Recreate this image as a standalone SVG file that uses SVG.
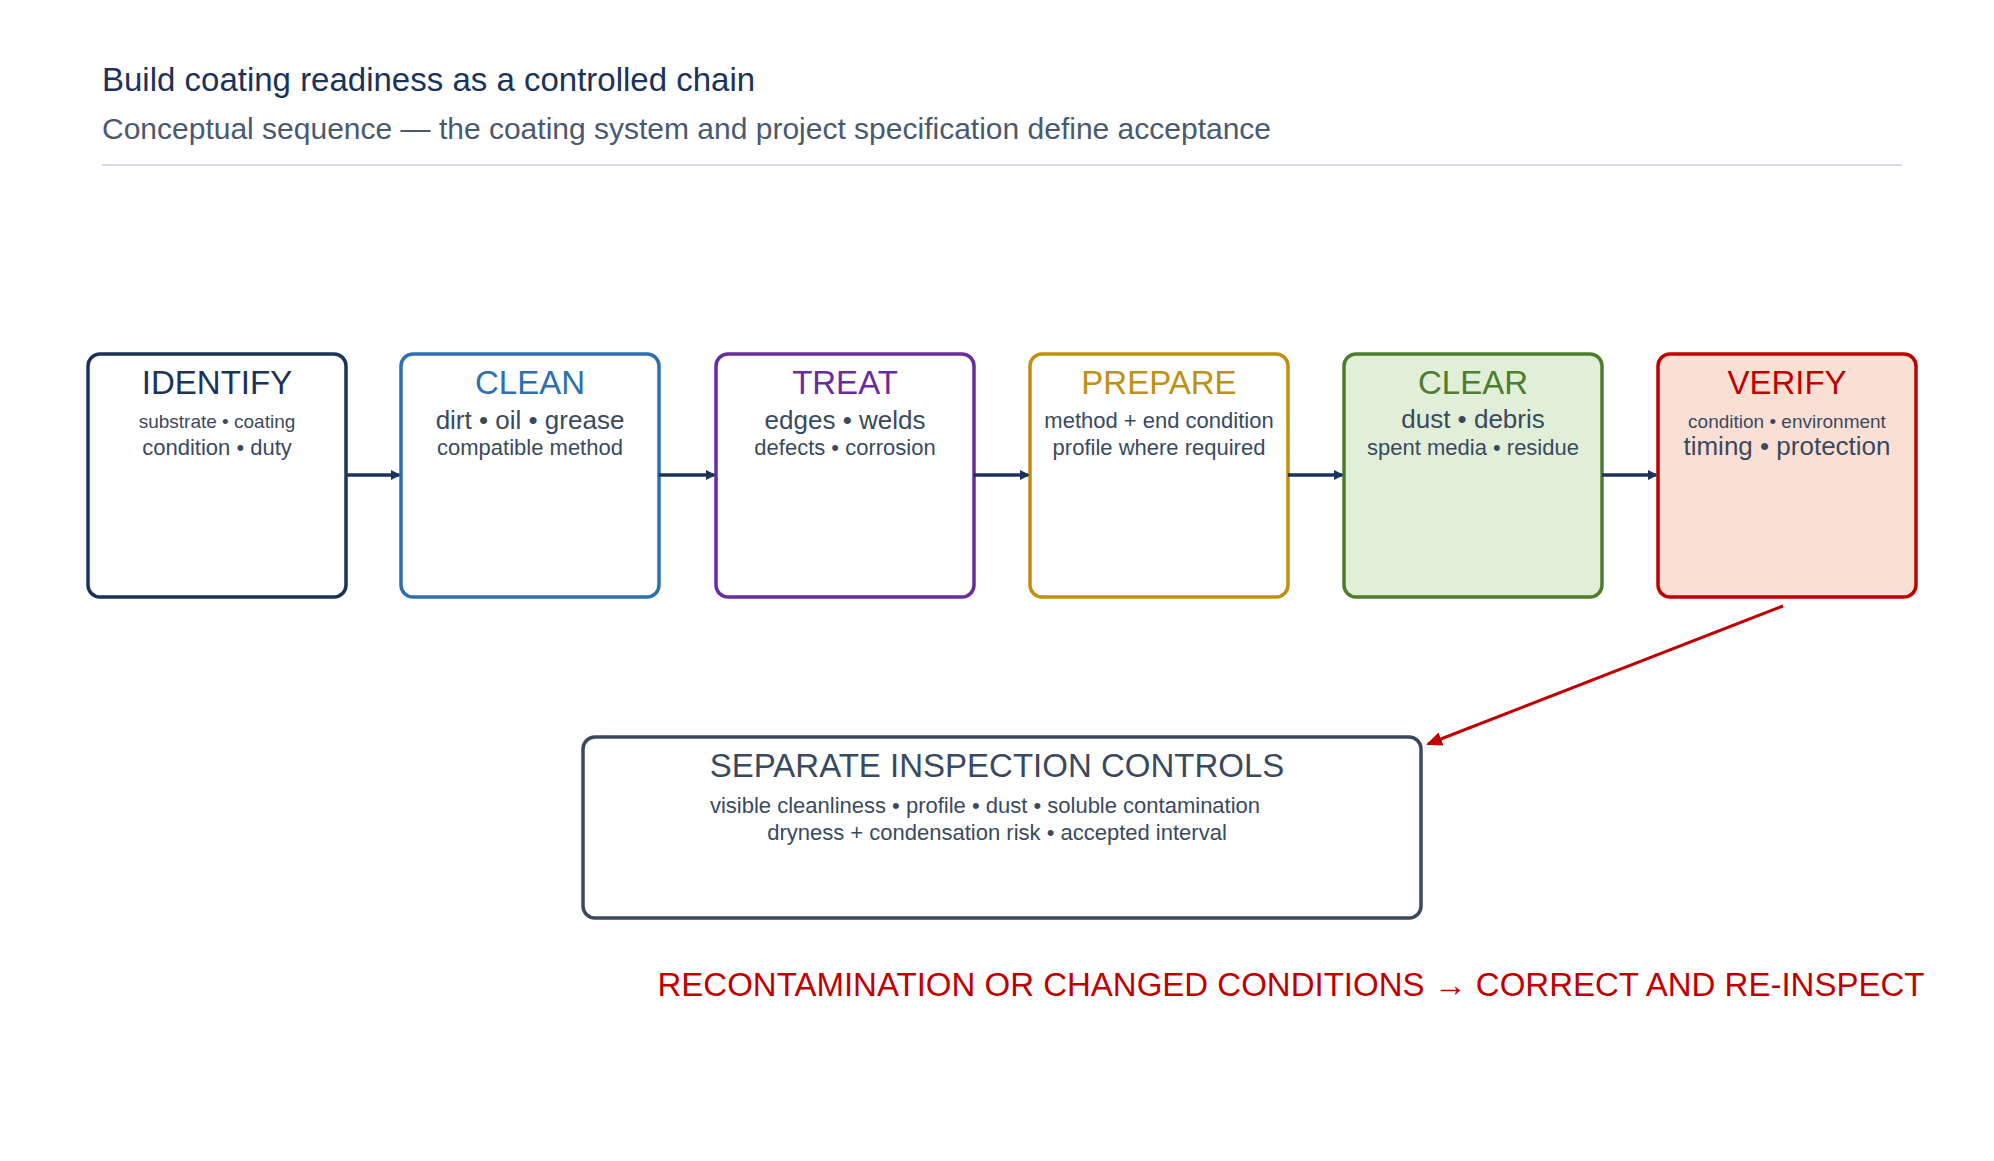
<svg xmlns="http://www.w3.org/2000/svg" width="1994" height="1161" viewBox="0 0 1994 1161">
<style>
text{font-family:"Liberation Sans",Arial,sans-serif;text-anchor:middle}
.t{font-size:33px}
.s{font-size:22px;fill:#3a4a5e}
.l{font-size:26px;fill:#3a4a5e}
.m{font-size:19px;fill:#3a4a5e}
.box{stroke-width:3.5}
</style>
<defs>
<marker id="a" markerWidth="10" markerHeight="10" refX="8" refY="5" orient="auto" markerUnits="userSpaceOnUse"><path d="M0,0 L10,5 L0,10 z" fill="#1b3358"/></marker>
<marker id="r" markerWidth="16" markerHeight="14" refX="14" refY="7" orient="auto" markerUnits="userSpaceOnUse"><path d="M0,0 L16,7 L0,14 z" fill="#c00000"/></marker>
</defs>
<rect width="1994" height="1161" fill="#fff"/>
<text x="102" y="91" style="text-anchor:start;font-size:33px;fill:#1b3358">Build coating readiness as a controlled chain</text>
<text x="102" y="139" style="text-anchor:start;font-size:30px;fill:#4a5a6e">Conceptual sequence — the coating system and project specification define acceptance</text>
<line x1="102" y1="165" x2="1902" y2="165" stroke="#d5daf0" stroke-width="2"/>
<g id="identify"><rect class="box" x="88" y="354" width="258" height="243" rx="12" fill="#fff" stroke="#1b3358"/><text class="t" x="217" y="394" fill="#1b3358">IDENTIFY</text><text class="m" x="217" y="428">substrate • coating</text><text class="s" x="217" y="455">condition • duty</text></g>
<g id="clean"><rect class="box" x="401" y="354" width="258" height="243" rx="12" fill="#fff" stroke="#2e6fae"/><text class="t" x="530" y="394" fill="#2e6fae">CLEAN</text><text class="l" x="530" y="429">dirt • oil • grease</text><text class="s" x="530" y="455">compatible method</text></g>
<g id="treat"><rect class="box" x="716" y="354" width="258" height="243" rx="12" fill="#fff" stroke="#6a2c9c"/><text class="t" x="845" y="394" fill="#6a2c9c">TREAT</text><text class="l" x="845" y="429">edges • welds</text><text class="s" x="845" y="455">defects • corrosion</text></g>
<g id="prepare"><rect class="box" x="1030" y="354" width="258" height="243" rx="12" fill="#fff" stroke="#c09010"/><text class="t" x="1159" y="394" fill="#c09010">PREPARE</text><text class="s" x="1159" y="428">method + end condition</text><text class="s" x="1159" y="455">profile where required</text></g>
<g id="clear"><rect class="box" x="1344" y="354" width="258" height="243" rx="12" fill="#e1efd9" stroke="#4e7d2e"/><text class="t" x="1473" y="394" fill="#4e7d2e">CLEAR</text><text class="l" x="1473" y="428">dust • debris</text><text class="s" x="1473" y="455">spent media • residue</text></g>
<g id="verify"><rect class="box" x="1658" y="354" width="258" height="243" rx="12" fill="#fae0d4" stroke="#c00000"/><text class="t" x="1787" y="394" fill="#c00000">VERIFY</text><text class="m" x="1787" y="428">condition • environment</text><text class="l" x="1787" y="455">timing • protection</text></g>
<g id="controls"><rect class="box" x="583" y="737" width="838" height="181" rx="12" fill="#fff" stroke="#3a4a5e"/><text x="997" y="777" style="font-size:33px;fill:#3a4a5e">SEPARATE INSPECTION CONTROLS</text><text class="s" x="985" y="813">visible cleanliness • profile • dust • soluble contamination</text><text class="s" x="997" y="840">dryness + condensation risk • accepted interval</text></g>
<g id="connectors" stroke-width="3.5" fill="none">
<line x1="346" y1="475" x2="399" y2="475" stroke="#1b3358" marker-end="url(#a)"/>
<line x1="659" y1="475" x2="714" y2="475" stroke="#1b3358" marker-end="url(#a)"/>
<line x1="974" y1="475" x2="1028" y2="475" stroke="#1b3358" marker-end="url(#a)"/>
<line x1="1288" y1="475" x2="1342" y2="475" stroke="#1b3358" marker-end="url(#a)"/>
<line x1="1602" y1="475" x2="1656" y2="475" stroke="#1b3358" marker-end="url(#a)"/>
<line x1="1783" y1="606" x2="1428" y2="744" stroke="#c00000" stroke-width="3" marker-end="url(#r)"/>
</g>
<text x="1291" y="996" style="font-size:33px;fill:#c00000">RECONTAMINATION OR CHANGED CONDITIONS → CORRECT AND RE-INSPECT</text>
</svg>
